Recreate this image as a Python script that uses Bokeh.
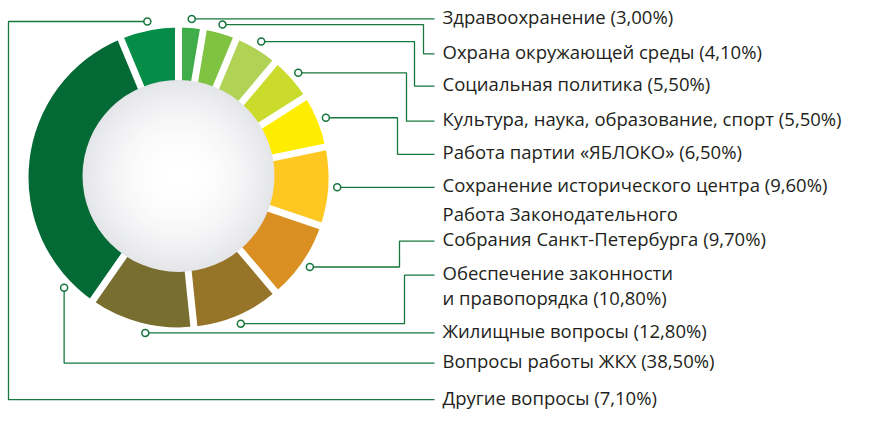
import math
from bokeh.plotting import figure
from bokeh.models import Range1d
from bokeh.embed import file_html
from bokeh.resources import INLINE
from bokeh.core.properties import value

# ---------------- data ----------------
categories = [
    "Здравоохранение",
    "Охрана окружающей среды",
    "Социальная политика",
    "Культура, наука, образование, спорт",
    "Работа партии «ЯБЛОКО»",
    "Сохранение исторического центра",
    "Работа Законодательного\nСобрания Санкт-Петербурга",
    "Обеспечение законности\nи правопорядка",
    "Жилищные вопросы",
    "Вопросы работы ЖКХ",
    "Другие вопросы",
]
shares = [3.00, 4.10, 5.50, 5.50, 6.50, 9.60, 9.70, 10.80, 12.80, 38.50, 7.10]
colors = ["#40ad4a", "#80c242", "#b1d355", "#cadb2b", "#feed01", "#fec721",
          "#d98f22", "#977528", "#786e30", "#046a35", "#058c47"]

# ---------------- layout / style (screen px, y downwards) ----------------
W, H = 855, 411
CX, CY = 178, 176.9
R_OUT, R_IN, R_HOLE = 150, 85, 96
GAP_W = 7
ANCHOR_R = 159
ANCHOR_ANGLE_OVERRIDE = {9: 226}          # degrees clockwise from top
ANCHOR_FROM_ROW = {8}
ELBOW_X = [None, 423, 414, 406, 397, None, 399, 404, None, "down", "around"]
ROW_Y = [None, 53.3, 85.7, 120.7, 153.8, None, 240.7, 274.7, 332.4, 362.6, 399.2]
ATTACH_LINE = [0, 0, 0, 0, 0, 0, 1, 0, 0, 0, 0]
LINE_END_X, TEXT_X = 434, 442
LEFT_X = 8
LEADER = "#17773d"
TEXT_COLOR = "#231f20"
FONT = "Open Sans"
FONT_SIZE = "18.5px"
LINE_GAP = 25
TEXT_DY = -2.5


def yd(y):
    return H - y


total = sum(shares)
cum = [0.0]
for s in shares:
    cum.append(cum[-1] + s)

start_angles = [math.pi / 2 - cum[i + 1] / total * 2 * math.pi for i in range(len(shares))]
end_angles = [math.pi / 2 - cum[i] / total * 2 * math.pi for i in range(len(shares))]
boundaries = [math.pi / 2 - c / total * 2 * math.pi for c in cum[:-1]]

p = figure(width=W, height=H, x_range=Range1d(0, W), y_range=Range1d(0, H),
           output_backend="svg", toolbar_location=None, min_border=0)
p.axis.visible = False
p.grid.visible = False
p.outline_line_color = None
p.background_fill_color = "white"
p.border_fill_color = "white"

n = len(shares)
# segments
p.annular_wedge(x=[CX] * n, y=[yd(CY)] * n,
                inner_radius=R_IN, outer_radius=R_OUT,
                inner_radius_units="screen", outer_radius_units="screen",
                start_angle=start_angles, end_angle=end_angles, direction="anticlock",
                fill_color=colors, line_color=None)

# white gaps between segments
p.ray(x=[CX] * n, y=[yd(CY)] * n, length=R_OUT + 4,
      length_units="screen", angle=boundaries, line_color="white", line_width=GAP_W)

# radial-gradient hole
N = 60
radii, fills = [], []
for i in range(N):
    r = R_HOLE * (1 - i / N)
    k = (r / R_HOLE) ** 2.2
    g0 = (0xe4, 0xe5, 0xe8)
    c = tuple(int(round(255 + (g - 255) * k)) for g in g0)
    radii.append(r)
    fills.append("#%02x%02x%02x" % c)
p.circle(x=[CX] * N, y=[yd(CY) + 1.5] * N, radius=radii, radius_units="screen",
         fill_color=fills, line_color=None)

# leaders and labels
xs, ys, ax_list, ay_list = [], [], [], []
tx, ty, tt = [], [], []
for i, cat in enumerate(categories):
    if i in ANCHOR_FROM_ROW:
        th = math.degrees(math.acos((ROW_Y[i] - CY) / ANCHOR_R))
        a = math.radians(180 + th)
    else:
        mid = (cum[i] + cum[i + 1]) / 2 / total * 360
        a = math.radians(ANCHOR_ANGLE_OVERRIDE.get(i, mid))
    ax = CX + ANCHOR_R * math.sin(a)
    ay = CY - ANCHOR_R * math.cos(a)
    ex = ELBOW_X[i]
    if ex is None:
        row = ay
        path = [(ax, ay), (LINE_END_X, ay)]
    elif ex == "down":
        row = ROW_Y[i]
        path = [(ax, ay), (ax, row), (LINE_END_X, row)]
    elif ex == "around":
        row = ROW_Y[i]
        path = [(ax, ay), (LEFT_X, ay), (LEFT_X, row), (LINE_END_X, row)]
    else:
        row = ROW_Y[i]
        path = [(ax, ay), (ex, ay), (ex, row), (LINE_END_X, row)]
    xs.append([pt[0] for pt in path])
    ys.append([yd(pt[1]) for pt in path])
    ax_list.append(ax)
    ay_list.append(yd(ay))
    pct = ("%.2f" % shares[i]).replace(".", ",")
    lines = (cat + " (" + pct + "%)").split("\n")
    for j, ln in enumerate(lines):
        tx.append(TEXT_X)
        ty.append(yd(row + TEXT_DY + (j - ATTACH_LINE[i]) * LINE_GAP))
        tt.append(ln)

p.multi_line(xs=xs, ys=ys, line_color=LEADER, line_width=1.3)
p.scatter(x=ax_list, y=ay_list, marker="circle", size=7, fill_color="white",
          line_color=LEADER, line_width=1.5)
p.text(x=tx, y=ty, text=tt, text_font=value(FONT), text_font_size=FONT_SIZE,
       text_color=TEXT_COLOR, text_baseline="middle", text_align="left")

open("out.html", "w").write(file_html(p, INLINE))
